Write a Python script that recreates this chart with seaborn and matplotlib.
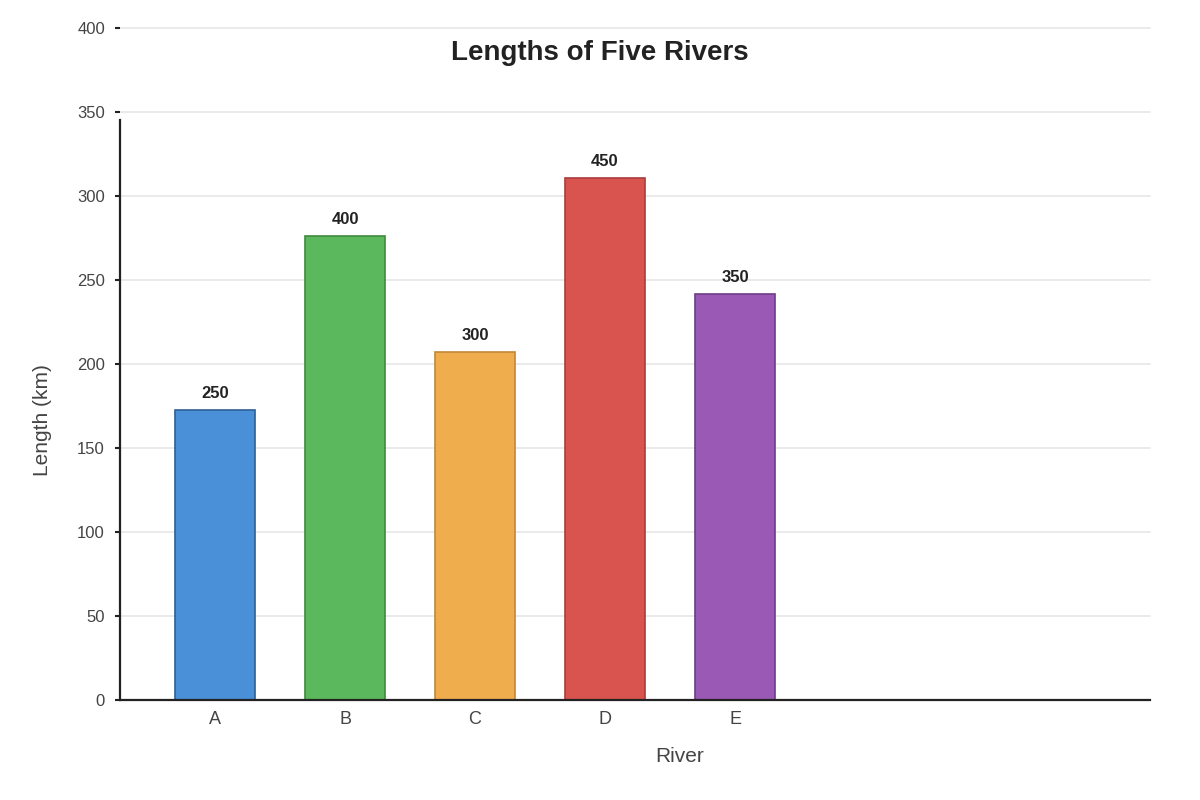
import matplotlib
matplotlib.use("Agg")
import matplotlib.pyplot as plt
import seaborn as sns
import pandas as pd

rivers = ["A", "B", "C", "D", "E"]
lengths = [250, 400, 300, 450, 350]
fill_colors = ["#4a90d9", "#5cb85c", "#f0ad4e", "#d9534f", "#9b59b6"]
edge_colors = ["#2f5f96", "#3e8a3e", "#c0883a", "#a83e3b", "#6e3d87"]
tick_values = [0, 50, 100, 150, 200, 250, 300, 350, 400]

sns.set_theme(style="white")
plt.rcParams["font.family"] = ["Liberation Sans", "DejaVu Sans"]

df = pd.DataFrame({"River": rivers, "Length": lengths})

fig = plt.figure(figsize=(12, 8), dpi=100)

# axis carrying the tick labels and gridlines
ax_t = fig.add_axes([0.1, 0.125, 1030 / 1200, 0.84])
ax_t.set_ylim(0, 400)
ax_t.set_yticks(tick_values)
ax_t.set_yticklabels([str(v) for v in tick_values], fontsize=12, color="#444444")
ax_t.tick_params(axis="y", left=True, length=3.6, width=1.5, color="#222222", pad=7.2)
ax_t.set_xticks([])
ax_t.grid(axis="y", color="#e6e6e6", linewidth=1.2)
for gl in ax_t.get_ygridlines():
    gl.set_clip_on(False)
for s in ax_t.spines.values():
    s.set_visible(False)
ax_t.set_axisbelow(True)

# axis with bars
ax = fig.add_axes([0.1, 0.125, 1030 / 1200, 0.725])
ax.patch.set_alpha(0)
sns.barplot(data=df, x="River", y="Length", hue="River",
            palette=dict(zip(rivers, fill_colors)), legend=False,
            width=0.615, ax=ax, saturation=1)
for patch, ec in zip(ax.patches, edge_colors):
    patch.set_edgecolor(ec)
    patch.set_linewidth(1.2)
ax.set_ylim(0, 500)
ax.set_xlim(-0.7308, 7.192)
ax.set_yticks([])
ax.tick_params(axis="x", length=0, labelsize=13, labelcolor="#444444", pad=8)
for i, v in enumerate(lengths):
    ax.annotate(str(v), (i, v), xytext=(0, 6.5), textcoords="offset points",
                ha="center", va="bottom", fontsize=12, fontweight="bold",
                color="#222222")
ax.spines["top"].set_visible(False)
ax.spines["right"].set_visible(False)
for s in ("left", "bottom"):
    ax.spines[s].set_color("#222222")
    ax.spines[s].set_linewidth(1.6)
ax.set_xlabel("")
ax.set_ylabel("")

fig.text(680 / 1200, 1 - 756 / 800, "River", ha="center", va="center",
         fontsize=15, color="#444444")
fig.text(43 / 1200, 1 - 420 / 800, "Length (km)", rotation=90, ha="center",
         va="center", fontsize=15, color="#444444")
fig.text(0.5, 1 - 53 / 800, "Lengths of Five Rivers", ha="center", va="center",
         fontsize=20, fontweight="bold", color="#222222")

fig.savefig("out.png", dpi=100)
